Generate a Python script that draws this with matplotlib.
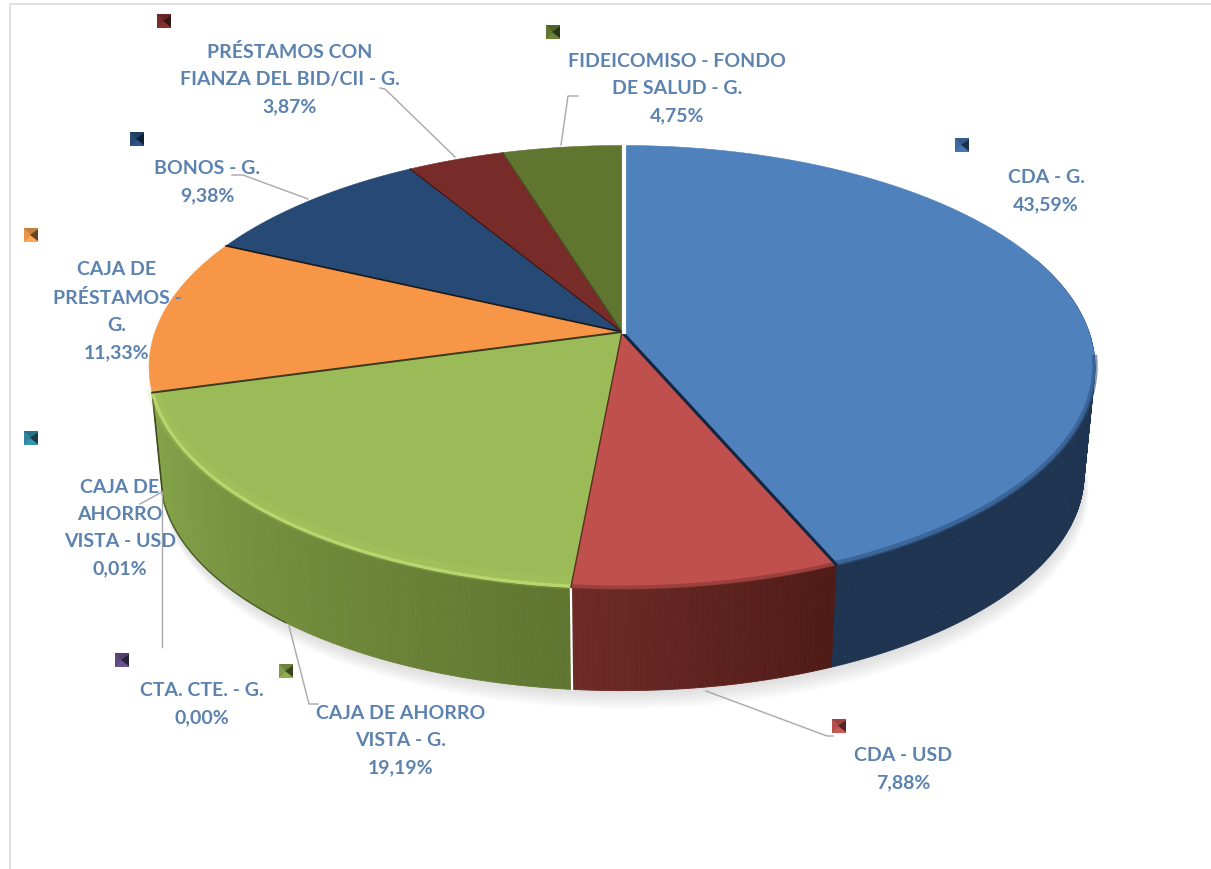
"""3D-look pie of the portfolio shares, built by hand since matplotlib has no tilted pie."""

import numpy as np
import matplotlib
matplotlib.use("Agg")
import matplotlib.pyplot as plt
import matplotlib.colors as mcolors
from matplotlib.collections import PolyCollection

plt.rcParams["font.family"] = ["Lato", "DejaVu Sans"]

# === DATA ===
CATEGORIES = [
    "CDA - G.",
    "CDA - USD",
    "CAJA DE AHORRO\nVISTA - G.",
    "CTA. CTE. - G.",
    "CAJA DE\nAHORRO\nVISTA - USD",
    "CAJA DE\nPRÉSTAMOS -\nG.",
    "BONOS - G.",
    "PRÉSTAMOS CON\nFIANZA DEL BID/CII - G.",
    "FIDEICOMISO - FONDO\nDE SALUD - G.",
]
SHARES = [43.59, 7.88, 19.19, 0.00, 0.01, 11.33, 9.38, 3.87, 4.75]

# === STYLE ===
TOP_COLORS = ["#4F81BD", "#C0504D", "#9BBB59", "#8064A2", "#4BACC6",
              "#F79646", "#264A75", "#772C2A", "#5F7530"]
# wall shade at the left and right end of each visible slice
WALL_LEFT = ["#1E3450", "#6E2B27", "#86A54A"]
WALL_RIGHT = ["#1E3450", "#4F1B17", "#5F7530"]
KEY_COLORS = ["#3F6A9E", "#B5504C", "#7F9A48", "#5F4A80", "#31859C",
              "#E8954A", "#264A75", "#772C2A", "#5F7530"]
TEXT_COLOR = "#5C82AF"
LEADER_COLOR = "#A8A8A8"

# Label centres and legend keys, in image pixels (same order as CATEGORIES).
LABEL_XY = [(1046, 191), (903, 769), (401, 741), (202, 704), (120, 528),
            (117, 311), (207, 182), (290, 79), (677, 89)]
KEY_XY = [(962, 146), (839, 727), (286, 672), (122, 661), (31, 439),
          (31, 236), (137, 140), (164, 22), (553, 33)]
LEADERS = [
    [(706, 692), (827, 737), (833, 737)],
    [(289, 627), (309, 705), (318, 705)],
    [(162, 493), (162, 648)],
    [(162, 493), (140, 505)],
    [(232, 176), (243, 176), (308, 200)],
    [(380, 89), (385, 90), (455, 158)],
    [(578, 97), (568, 97), (561, 146)],
]

# Perspective of the disc: apex position, radii and tilt.
APEX_X, APEX_Y = 622, 333
RX, RY, TILT = 467, 216, 0.158
BOTTOM_SCALE, BOTTOM_Y = 0.977, 441


def rim(theta):
    """Top rim point(s) for clockwise angle theta (radians, 0 = 12 o'clock)."""
    u, v = np.sin(theta), np.cos(theta)
    w = 1 + TILT * v
    return APEX_X + RX * u / w, APEX_Y - RY * v / w


def bottom_rim(theta):
    x, y = rim(theta)
    return APEX_X + BOTTOM_SCALE * (x - APEX_X), BOTTOM_Y + BOTTOM_SCALE * (y - APEX_Y)


fig = plt.figure(figsize=(12.11, 8.7), dpi=100)
ax = fig.add_axes([0, 0, 1, 1])
ax.set_xlim(0, 1211)
ax.set_ylim(870, 0)
ax.axis("off")

# image frame
ax.plot([1211, 10, 10], [5, 5, 870], color="#D9D9D9", lw=1.2, zorder=0)

edges = np.cumsum([0] + SHARES) / sum(SHARES) * 2 * np.pi
full = np.linspace(0, 2 * np.pi, 361)

# soft shadow under the disc
bx, by = bottom_rim(full)
for off in np.linspace(18, 2, 9):
    ax.fill(bx + off * 0.25, by + off, color="#8C8C8C", alpha=0.03, lw=0, zorder=1)

# side wall: only blue, red and green reach the front
for i in range(3):
    a, b = edges[i], edges[i + 1]
    ts = np.arange(a, b + 0.01, 0.01)
    ts[-1] = b
    left, right = np.array(mcolors.to_rgb(WALL_LEFT[i])), np.array(mcolors.to_rgb(WALL_RIGHT[i]))
    quads, cols = [], []
    for t0, t1 in zip(ts[:-1], ts[1:]):
        mid = (t0 + t1) / 2
        if np.cos(mid) > 0.35:
            continue
        x0, y0 = rim(t0)
        x1, y1 = rim(t1)
        x2, y2 = bottom_rim(t1)
        x3, y3 = bottom_rim(t0)
        quads.append([(x0, y0), (x1, y1), (x2, y2), (x3, y3)])
        frac = (mid - a) / (b - a)  # clockwise, so 0 is the right end
        cols.append(left * frac + right * (1 - frac))
    ax.add_collection(PolyCollection(quads, facecolors=cols, edgecolors=cols,
                                     linewidths=0.6, zorder=2))

# dark edge of the wall on the far left
ex0, ey0 = rim(edges[3])
ex1, ey1 = bottom_rim(edges[3])
ax.plot([ex0, ex1], [ey0, ey1], color="#3F4A1E", lw=1.2, zorder=3)
ts = np.linspace(edges[2], edges[3], 60)
ax.plot(*bottom_rim(ts[ts > edges[3] - 0.6]), color="#4C5E27", lw=1, zorder=3)

# white seam on the wall between green and red
sx0, sy0 = rim(edges[2])
sx1, sy1 = bottom_rim(edges[2])
ax.plot([sx0, sx1], [sy0, sy1], color="white", lw=1.6, zorder=3)

# top surface
SEPARATORS = {1: ("#14263F", 2.2), 2: ("#5A2A1E", 1.0), 6: ("#1A1A1A", 1.2),
              5: ("#3A3A1E", 1.4), 7: ("#3A1512", 0.8), 8: ("#3E4C1E", 0.8)}
for i, (a, b) in enumerate(zip(edges[:-1], edges[1:])):
    ts = np.linspace(a, b, max(2, int((b - a) * 120)))
    x, y = rim(ts)
    ax.fill(np.r_[APEX_X, x], np.r_[APEX_Y, y], color=TOP_COLORS[i], lw=0.4, zorder=4)

# bevel where the top meets the wall
for i, col, width, alpha, shift in [(0, "#2F5482", 4.0, 0.6, -1), (1, "#8F3A36", 3.0, 0.7, -1),
                                    (2, "#B4D268", 9.0, 0.18, -4), (2, "#BEDB72", 2.4, 0.85, -1)]:
    ts = np.linspace(edges[i], edges[i + 1], 120)
    x, y = rim(ts[np.cos(ts) < -0.1])
    ax.plot(x, y + shift, color=col, lw=width, alpha=alpha, solid_capstyle="butt", zorder=5)

# slice boundaries on the top
for i, (col, width) in SEPARATORS.items():
    x, y = rim(edges[i])
    ax.plot([APEX_X, x], [APEX_Y, y], color=col, lw=width, zorder=6)

# white gap at 12 o'clock
ax.plot([APEX_X + 1.5, APEX_X + 1.5], [140, APEX_Y], color="white", lw=3, zorder=7)

# leader lines
for pts in LEADERS:
    xs, ys = zip(*pts)
    ax.plot(xs, ys, color=LEADER_COLOR, lw=1, zorder=8)

# legend keys with the little pyramid bevel
for (kx, ky), col in zip(KEY_XY, KEY_COLORS):
    h = 7
    rgb = np.array(mcolors.to_rgb(col))
    ax.fill([kx - h, kx + h, kx + h, kx - h], [ky - h, ky - h, ky + h, ky + h],
            color=col, lw=0, zorder=9)
    ax.fill([kx - h, kx + h, kx], [ky - h, ky - h, ky], color=rgb * 0.85, lw=0, zorder=10)
    ax.fill([kx - h, kx + h, kx], [ky + h, ky + h, ky], color=np.minimum(rgb * 1.12, 1), lw=0, zorder=10)
    ax.fill([kx + h, kx + h, kx - 1], [ky - 6, ky + 6, ky], color=rgb * 0.45, lw=0, zorder=10)

# data labels
for name, share, (lx, ly) in zip(CATEGORIES, SHARES, LABEL_XY):
    pct = f"{share:.2f}".replace(".", ",") + "%"
    ax.text(lx, ly, f"{name}\n{pct}", ha="center", va="center", color=TEXT_COLOR, fontsize=14,
            fontweight="bold", linespacing=1.72, zorder=11)

fig.savefig("out.png", dpi=100)
